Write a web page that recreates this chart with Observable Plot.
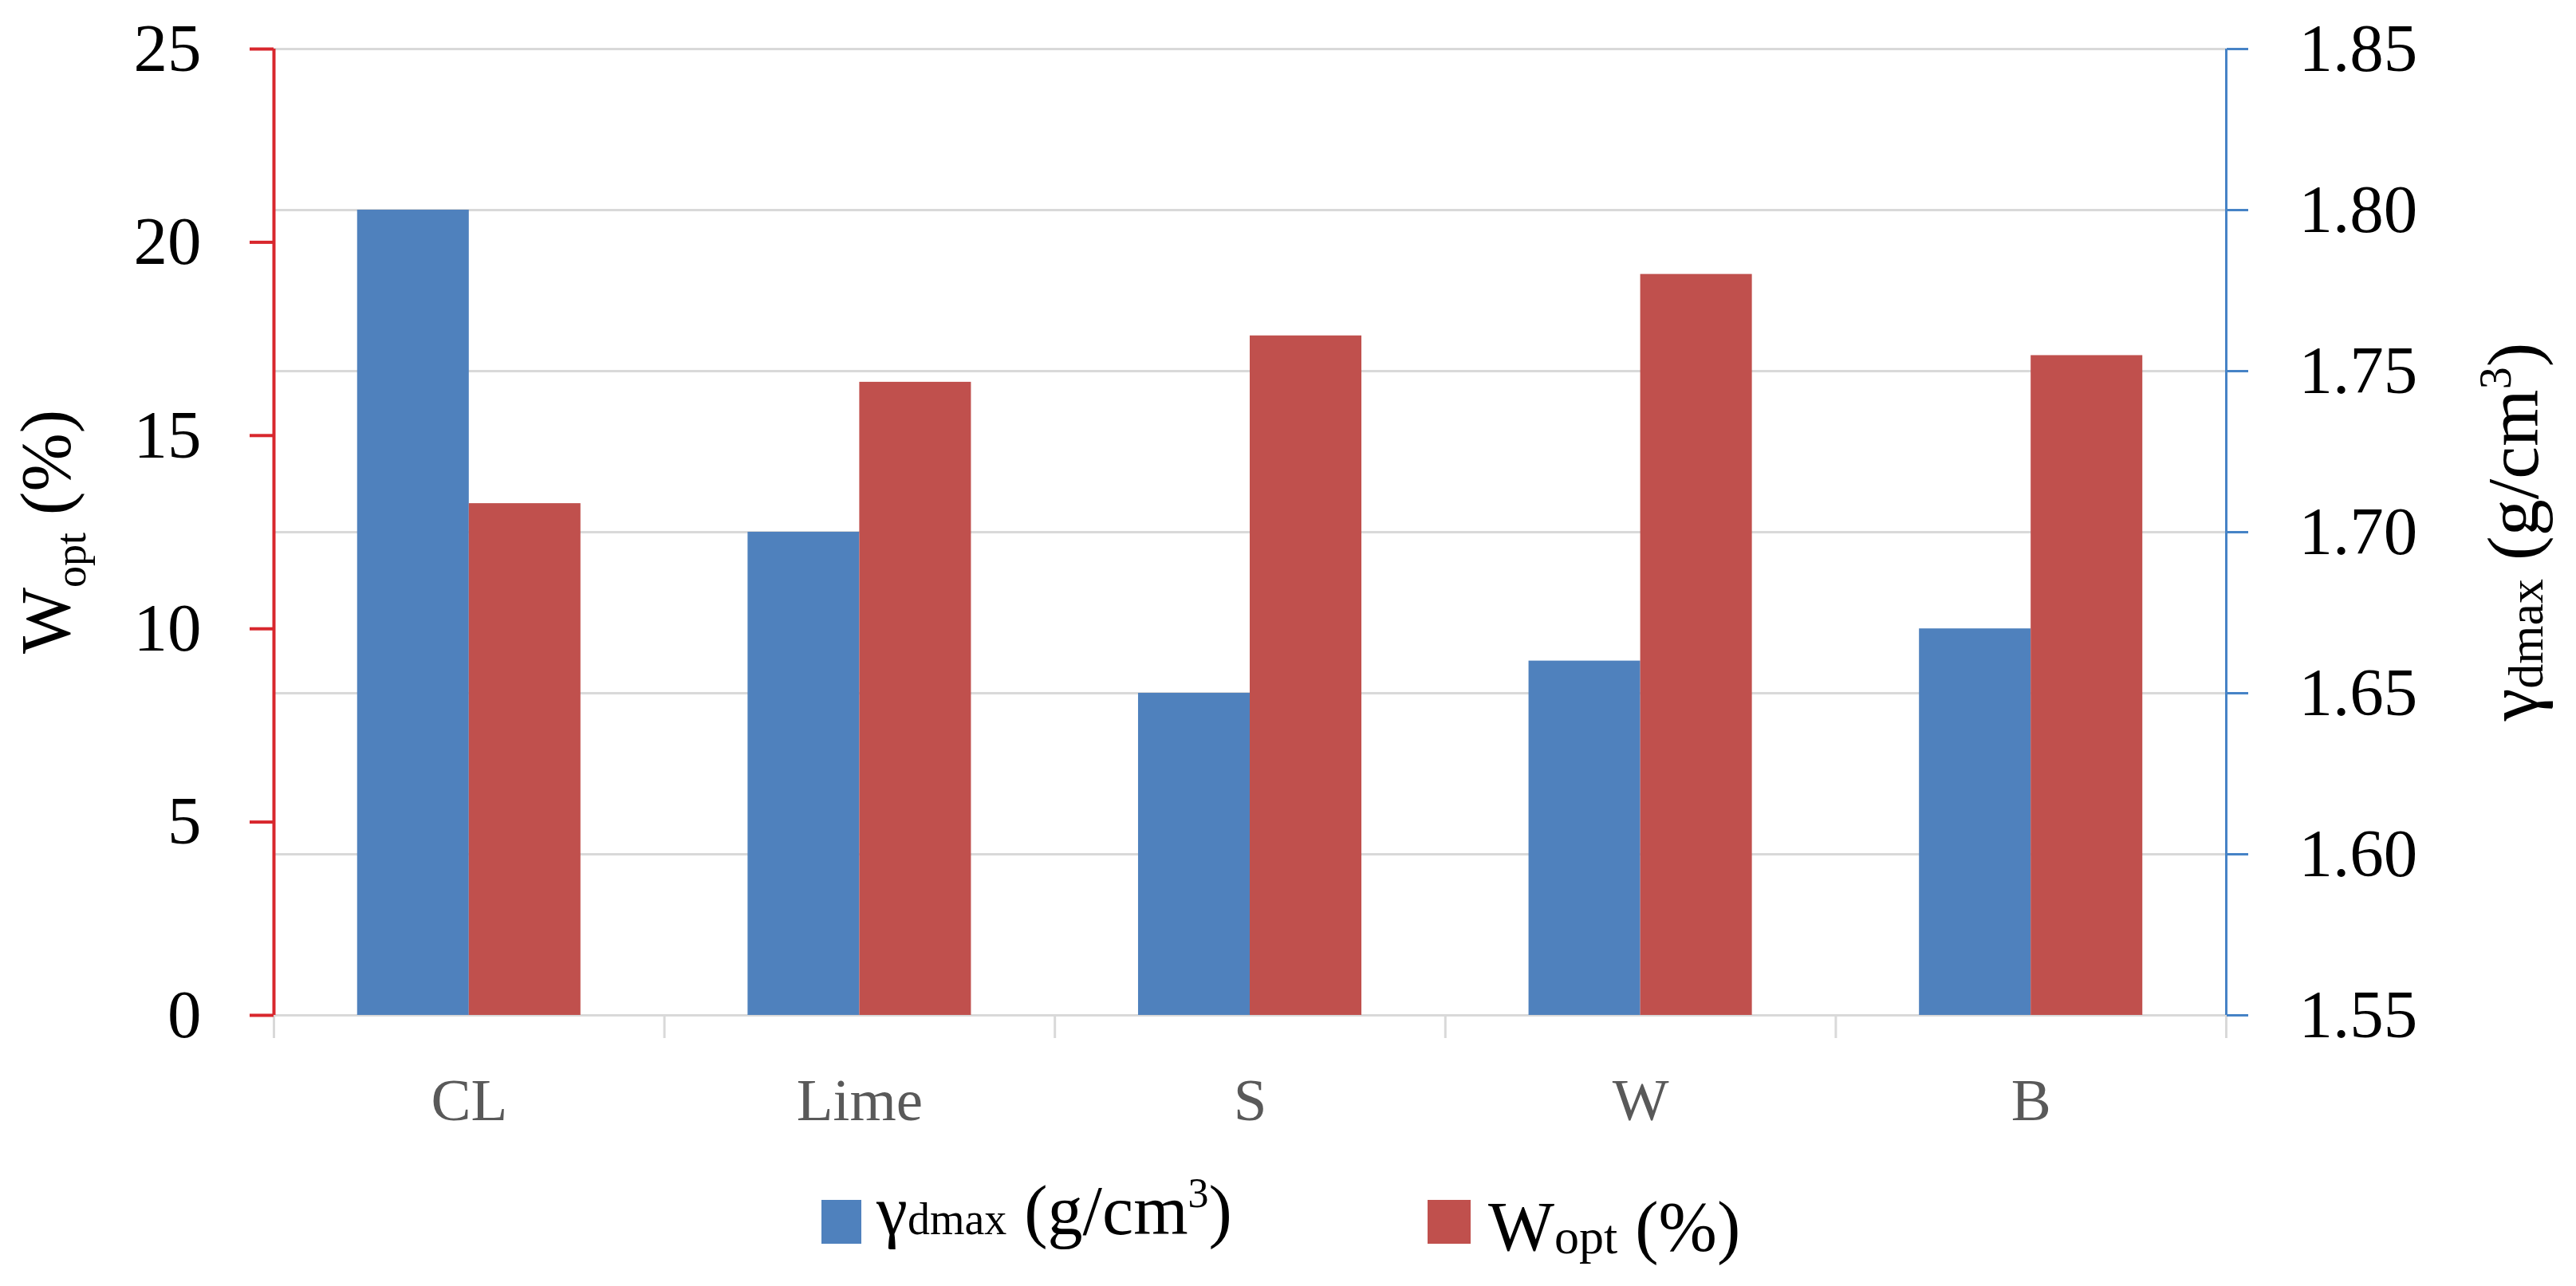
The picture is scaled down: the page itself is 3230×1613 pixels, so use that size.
<!DOCTYPE html>
<html><head><meta charset="utf-8">
<script src="https://cdn.jsdelivr.net/npm/d3@7"></script>
<script src="https://cdn.jsdelivr.net/npm/@observablehq/plot@0.6"></script>
<style>
html,body{margin:0;padding:0;background:#fff;}
#chart{width:3230px;}
svg{display:block;}
</style></head><body><div id="chart"></div>
<script>
// ---- data ----
const categories = ["CL", "Lime", "S", "W", "B"];
const gammaDmax = [1.80, 1.70, 1.65, 1.66, 1.67];   // right axis, g/cm3
const wOpt = [13.24, 16.38, 17.58, 19.17, 17.07];   // left axis, %
const leftTicks = [0, 5, 10, 15, 20, 25];
const rightTicks = [1.55, 1.60, 1.65, 1.70, 1.75, 1.80, 1.85];
const seriesKeys = ["gamma", "w"];
const seriesColors = ["#4F81BD", "#C0504D"];

// ---- styling ----
const RED_AXIS = "#d8272d";
const BLUE_AXIS = "#4683c6";
const GRID = "#d9d9d9";
const FONT = "'Liberation Serif', 'Times New Roman', serif";

const leftDomain = [0, 25];
const rightDomain = [1.55, 1.85];
const toLeft = d3.scaleLinear(rightDomain, leftDomain);

const barFrac = 0.286;
const rows = categories.flatMap((c, i) => [
  {cat: c, series: seriesKeys[0], value: gammaDmax[i], y: toLeft(gammaDmax[i]), x1: i + 0.5 - barFrac, x2: i + 0.5},
  {cat: c, series: seriesKeys[1], value: wOpt[i], y: wOpt[i], x1: i + 0.5, x2: i + 0.5 + barFrac}
]);
const slotEdges = d3.range(categories.length + 1);
const slotCenters = categories.map((c, i) => i + 0.5);

const W = 3230, H = 1460;
const mL = 343, mR = 439, mT = 61, mB = 187;

const chart = Plot.plot({
  width: W, height: H,
  marginLeft: mL, marginRight: mR, marginTop: mT, marginBottom: mB,
  style: {fontFamily: FONT, background: "#fff", overflow: "visible"},
  x: {domain: [0, categories.length], axis: null},
  y: {domain: leftDomain, axis: null},
  color: {domain: seriesKeys, range: seriesColors},
  marks: [
    Plot.ruleY(rightTicks.map(toLeft), {stroke: GRID, strokeWidth: 3}),
    Plot.axisX(slotEdges, {tickSize: 29, stroke: GRID, strokeWidth: 3, tickFormat: () => "", label: null}),
    Plot.rect(rows, {x1: "x1", x2: "x2", y1: 0, y2: "y", fill: "series"}),
    Plot.ruleX([0], {stroke: RED_AXIS, strokeWidth: 4}),
    Plot.ruleX([categories.length], {stroke: BLUE_AXIS, strokeWidth: 3}),
    Plot.axisY(leftTicks, {anchor: "left", tickSize: 30, tickPadding: 61, stroke: RED_AXIS, strokeWidth: 4,
      fill: "#000", fontSize: 85, tickFormat: d => String(d), label: null}),
    Plot.axisY(rightTicks.map(toLeft), {anchor: "right", tickSize: 27, tickPadding: 64, stroke: BLUE_AXIS, strokeWidth: 3,
      fill: "#000", fontSize: 85, tickFormat: d => toLeft.invert(d).toFixed(2), label: null}),
    Plot.axisX(slotCenters, {tickSize: 0, tickPadding: 78, fill: "#595959", fontSize: 75,
      tickFormat: d => categories[Math.floor(d)], label: null})
  ]
});

// ---- axis titles with sub/superscripts ----
const svg = d3.select(chart);
const yr = chart.scale("y").range;
const yMid = (yr[0] + yr[1]) / 2;

const lt = svg.append("text")
  .attr("transform", `translate(87,${yMid}) rotate(-90)`)
  .attr("text-anchor", "middle").attr("font-size", 88).attr("fill", "#000").attr("font-family", FONT);
lt.append("tspan").text("W");
lt.append("tspan").attr("font-size", 54).attr("dy", 20).text("opt");
lt.append("tspan").attr("dy", -20).text(" (%)");

const rt = svg.append("text")
  .attr("transform", `translate(3182,${yMid}) rotate(-90)`)
  .attr("text-anchor", "middle").attr("font-size", 92).attr("fill", "#000").attr("font-family", FONT);
rt.append("tspan").text("γ");
rt.append("tspan").attr("font-size", 62).attr("dy", 6).text("dmax");
rt.append("tspan").attr("dy", -6).text(" (g/cm");
rt.append("tspan").attr("font-size", 56).attr("dy", -34).text("3");
rt.append("tspan").attr("dy", 34).text(")");

document.getElementById("chart").appendChild(chart);

// ---- legend below the plot ----
const LH = 1613 - H;
const leg = d3.select("#chart").append("svg")
  .attr("width", W).attr("height", LH)
  .style("font-family", FONT).style("background", "#fff");

const g1 = leg.append("g");
g1.append("rect").attr("x", 1030).attr("y", 45).attr("width", 50).attr("height", 55).attr("fill", seriesColors[0]);
const t1 = g1.append("text").attr("x", 1099).attr("y", 88).attr("font-size", 88).attr("fill", "#000");
t1.append("tspan").text("γ");
t1.append("tspan").attr("font-size", 56).text("dmax");
t1.append("tspan").text(" (g/cm");
t1.append("tspan").attr("font-size", 52).attr("dy", -34).text("3");
t1.append("tspan").attr("dy", 34).text(")");

const g2 = leg.append("g");
g2.append("rect").attr("x", 1790).attr("y", 45).attr("width", 54).attr("height", 55).attr("fill", seriesColors[1]);
const t2 = g2.append("text").attr("x", 1866).attr("y", 108).attr("font-size", 88).attr("fill", "#000");
t2.append("tspan").text("W");
t2.append("tspan").attr("font-size", 62).attr("dy", 4).text("opt");
t2.append("tspan").attr("dy", -4).text(" (%)");
</script>
</body></html>
